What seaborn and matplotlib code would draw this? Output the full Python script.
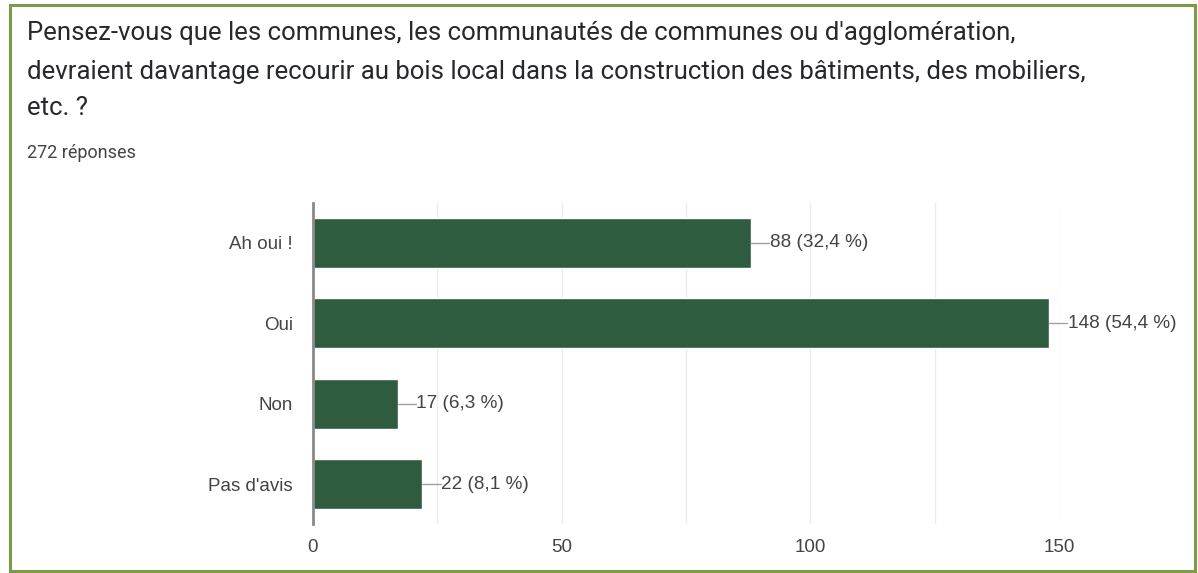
import matplotlib
matplotlib.use("Agg")
import matplotlib.pyplot as plt
import seaborn as sns
import pandas as pd
from matplotlib.patches import Rectangle

# Data
categories = ["Ah oui !", "Oui", "Non", "Pas d'avis"]
counts = [88, 148, 17, 22]
percents = ["32,4 %", "54,4 %", "6,3 %", "8,1 %"]
total_label = "272 réponses"
question_lines = [
    "Pensez-vous que les communes, les communautés de communes ou d'agglomération,",
    "devraient davantage recourir au bois local dans la construction des bâtiments, des mobiliers,",
    "etc. ?",
]

data = pd.DataFrame({"Réponse": categories, "Nombre": counts})

sns.set_theme(style="white")
plt.rcParams["font.family"] = ["Liberation Sans", "DejaVu Sans"]

W, H = 1198, 573
fig = plt.figure(figsize=(W / 100, H / 100), dpi=100)
ax = fig.add_axes([313 / W, 1 - 524 / H, (1059 - 313) / W, (524 - 203) / H])

sns.barplot(data=data, y="Réponse", x="Nombre", color="#2f5b3e", width=0.625,
            saturation=1, ax=ax, zorder=3)

ax.set_xlim(0, 150)
ax.set_xticks([0, 50, 100, 150])
ax.set_xticks([25, 75, 125], minor=True)
ax.grid(axis="x", which="both", color="#ececec", linewidth=1, zorder=0)
ax.set_xlabel("")
ax.set_ylabel("")
for s in ["top", "right", "bottom"]:
    ax.spines[s].set_visible(False)
ax.spines["left"].set_color("#8a8a8a")
ax.spines["left"].set_linewidth(2)
ax.spines["left"].set_zorder(4)
ax.tick_params(axis="y", length=0, pad=14.5, labelsize=13.5, labelcolor="#444444")
ax.tick_params(axis="x", which="both", length=0, pad=11, labelsize=13.5, labelcolor="#444444")

# value labels with leader lines
for i, (c, p) in enumerate(zip(counts, percents)):
    ax.plot([c, c + 3.7], [i, i], color="#a0a0a0", linewidth=1, zorder=4, clip_on=False)
    ax.text(c + 3.8, i, f"{c} ({p})", va="center", ha="left", fontsize=13.7,
            color="#444444", zorder=5)

# question header
for ln, yy in zip(question_lines, [33, 72, 108]):
    fig.text(27 / W, 1 - yy / H, ln, ha="left", va="center", fontsize=18.5,
             color="#27282b", family=["Roboto", "DejaVu Sans"])
fig.text(27 / W, 1 - 153 / H, total_label, ha="left", va="center", fontsize=13,
         color="#444444", family=["Roboto", "DejaVu Sans"])

# green frame
fig.patches.append(Rectangle((10 / W, 1 - 571 / H), (1195 - 10) / W, (571 - 5) / H,
                             transform=fig.transFigure, fill=False, edgecolor="#7b9b45",
                             linewidth=2.2))

fig.savefig("out.png", dpi=100)
